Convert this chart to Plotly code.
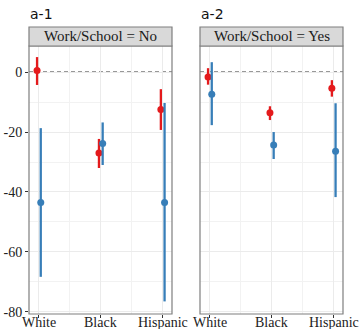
import plotly.graph_objects as go

categories = ["White", "Black", "Hispanic"]
panels = ["Work/School = No", "Work/School = Yes"]
panel_titles = ["a-1", "a-2"]

# Panel 1 (No)
p1_red = [0.5, -27.0, -12.5]
p1_red_lo = [-4.3, -32.0, -19.3]
p1_red_hi = [5.0, -22.3, -5.7]
p1_blue = [-43.5, -23.8, -43.5]
p1_blue_lo = [-68.3, -31.0, -76.5]
p1_blue_hi = [-18.7, -16.8, -10.3]

# Panel 2 (Yes)
p2_red = [-1.6, -13.6, -5.4]
p2_red_lo = [-4.2, -16.0, -8.2]
p2_red_hi = [1.3, -11.4, -2.7]
p2_blue = [-7.4, -24.3, -26.4]
p2_blue_lo = [-17.7, -29.0, -41.7]
p2_blue_hi = [3.3, -20.0, -10.4]

yticks = [0, -20, -40, -60, -80]
ytick_labels = ["0", "-20", "-40", "-60", "-80"]

RED = "#E41A1C"
BLUE = "#377EB8"
SERIF = "Liberation Serif, DejaVu Serif, serif"
W, H = 362, 329

fig = go.Figure()

dodge = 0.03
data = [
    (p1_red, p1_red_lo, p1_red_hi, p1_blue, p1_blue_lo, p1_blue_hi),
    (p2_red, p2_red_lo, p2_red_hi, p2_blue, p2_blue_lo, p2_blue_hi),
]

for i, (r, rlo, rhi, b, blo, bhi) in enumerate(data):
    xa = "x" if i == 0 else "x2"
    ya = "y" if i == 0 else "y2"
    for vals, lo, hi, col, off in [(r, rlo, rhi, RED, -dodge), (b, blo, bhi, BLUE, dodge)]:
        xs = [k + off for k in range(len(categories))]
        fig.add_trace(go.Scatter(
            x=xs, y=vals, mode="markers",
            marker=dict(color=col, size=7),
            error_y=dict(type="data", symmetric=False,
                         array=[h - v for h, v in zip(hi, vals)],
                         arrayminus=[v - l for v, l in zip(vals, lo)],
                         color=col, thickness=2.3, width=0),
            xaxis=xa, yaxis=ya, showlegend=False, hoverinfo="skip",
        ))

px = lambda p: p / W
py = lambda p: 1 - p / H
x1d = [px(29), px(172)]
x2d = [px(200), px(343)]
yd = [py(314), py(46)]

xcommon = dict(range=[-0.16, 2.15], tickmode="array", tickvals=[0, 1, 2], ticktext=categories,
               showticklabels=False,
               showgrid=True, gridcolor="#ebebeb", gridwidth=1,
               minor=dict(tickmode="array", tickvals=[0.5, 1.5], showgrid=True, gridcolor="#f2f2f2", gridwidth=0.8),
               ticks="outside", ticklen=3, tickcolor="#333", tickwidth=1,
               zeroline=False, showline=False, automargin=False, fixedrange=True)
ycommon = dict(range=[-80.7, 8.7], tickmode="array", tickvals=yticks, ticktext=ytick_labels,
               showgrid=True, gridcolor="#ebebeb", gridwidth=1,
               minor=dict(tickmode="array", tickvals=[-10, -30, -50, -70], showgrid=True, gridcolor="#f2f2f2", gridwidth=0.8),
               zeroline=False, showline=False, automargin=False, fixedrange=True,
               ticks="outside", ticklen=3, tickcolor="#333", tickwidth=1,
               tickfont=dict(family=SERIF, size=14, color="#222"))

fig.update_layout(
    width=W, height=H, margin=dict(l=0, r=0, t=0, b=0),
    paper_bgcolor="white", plot_bgcolor="white",
    xaxis=dict(domain=x1d, anchor="y", **xcommon),
    xaxis2=dict(domain=x2d, anchor="y2", **xcommon),
    yaxis=dict(domain=yd, anchor="x", **ycommon),
    yaxis2=dict(domain=yd, anchor="x2", **{**ycommon, "showticklabels": False, "ticks": ""}),
)

shapes = []
annotations = []
for i, (xd, xr, yr) in enumerate([(x1d, "x", "y"), (x2d, "x2", "y2")]):
    shapes.append(dict(type="line", xref=f"{xr} domain", yref=yr, x0=0, x1=1, y0=0, y1=0,
                       line=dict(color="#333", width=1.1, dash="4px,3px"), layer="below"))
    shapes.append(dict(type="rect", xref="paper", yref="paper", x0=xd[0], x1=xd[1], y0=yd[0], y1=yd[1],
                       line=dict(color="#7f7f7f", width=1.2), fillcolor="rgba(0,0,0,0)", layer="above"))
    shapes.append(dict(type="rect", xref="paper", yref="paper", x0=xd[0], x1=xd[1], y0=yd[1], y1=py(27),
                       line=dict(color="#7f7f7f", width=1.2), fillcolor="#d9d9d9", layer="above"))
    annotations.append(dict(xref="paper", yref="paper", x=(xd[0] + xd[1]) / 2, y=(yd[1] + py(27)) / 2,
                            text=panels[i], showarrow=False, xanchor="center", yanchor="middle",
                            font=dict(family=SERIF, size=15, color="#1a1a1a")))
    annotations.append(dict(xref="paper", yref="paper", x=xd[0] - px(1.5), y=py(14.5),
                            text=panel_titles[i], showarrow=False, xanchor="left", yanchor="middle",
                            font=dict(family="DejaVu Sans, sans-serif", size=14, color="#111")))
    for k, cat in enumerate(categories):
        annotations.append(dict(xref=xr, yref="paper", x=k, y=py(313), text=cat, showarrow=False,
                                xanchor="center", yanchor="top",
                                font=dict(family=SERIF, size=14, color="#222")))

fig.update_layout(shapes=shapes, annotations=annotations)
fig.write_html("out.html", config={"displayModeBar": False},
               post_script="document.body.style.margin='0';document.body.style.padding='0';")
